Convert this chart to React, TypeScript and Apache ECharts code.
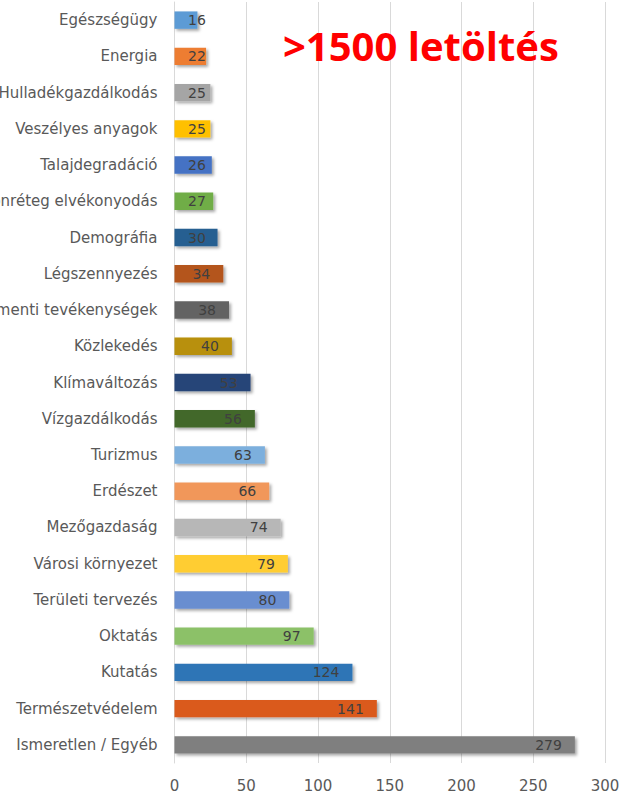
import React, { useEffect, useRef } from "react";
import * as echarts from "echarts";

const categories = [
  "Egészségügy",
  "Energia",
  "Hulladékgazdálkodás",
  "Veszélyes anyagok",
  "Talajdegradáció",
  "Ózonréteg elvékonyodás",
  "Demográfia",
  "Légszennyezés",
  "Part menti tevékenységek",
  "Közlekedés",
  "Klímaváltozás",
  "Vízgazdálkodás",
  "Turizmus",
  "Erdészet",
  "Mezőgazdaság",
  "Városi környezet",
  "Területi tervezés",
  "Oktatás",
  "Kutatás",
  "Természetvédelem",
  "Ismeretlen / Egyéb",
];

const values = [16, 22, 25, 25, 26, 27, 30, 34, 38, 40, 53, 56, 63, 66, 74, 79, 80, 97, 124, 141, 279];

const barColors = [
  "#5B9BD5", "#ED7D31", "#A5A5A5", "#FFC000", "#4472C4", "#70AD47", "#255E91",
  "#B4541B", "#636363", "#B8900A", "#264478", "#43682B", "#7CAFDD", "#F1975A",
  "#B7B7B7", "#FFCD33", "#698ED0", "#8CC168", "#2E75B6", "#DA5A1B", "#7F7F7F",
];

const xTicks = { min: 0, max: 300, interval: 50 };
const title = ">1500 letöltés";

export default function App() {
  const ref = useRef<HTMLDivElement>(null);
  useEffect(() => {
    if (!ref.current) return;
    const chart = echarts.init(ref.current, null, { renderer: "svg" });
    chart.setOption({
      animation: false,
      backgroundColor: "#ffffff",
      title: {
        text: title,
        left: 278,
        top: 20,
        textStyle: {
          color: "#FF0000",
          fontFamily: "Open Sans",
          fontWeight: "bold",
          fontSize: 40,
        },
      },
      grid: {
        left: 174.5,
        right: 14,
        top: 2,
        bottom: 35,
        containLabel: false,
        outerBoundsMode: "none",
      },
      xAxis: {
        type: "value",
        min: xTicks.min,
        max: xTicks.max,
        interval: xTicks.interval,
        axisLine: { show: false },
        axisTick: { show: false },
        splitLine: { lineStyle: { color: "#D9D9D9", width: 1 } },
        axisLabel: {
          color: "#595959",
          fontFamily: "DejaVu Sans",
          fontSize: 15,
          margin: 15,
        },
      },
      yAxis: {
        type: "category",
        inverse: true,
        data: categories,
        axisLine: { show: true, lineStyle: { color: "#D9D9D9", width: 1 } },
        axisTick: { show: false },
        axisLabel: {
          color: "#595959",
          fontFamily: "DejaVu Sans",
          fontSize: 15,
          margin: 17,
        },
      },
      series: [
        {
          type: "bar",
          barWidth: "48%",
          data: values.map((v, i) => ({
            value: v,
            itemStyle: { color: barColors[i] },
            label: v < 31 ? { position: "insideLeft", distance: 13.5 } : undefined,
          })),
          itemStyle: {
            shadowBlur: 3,
            shadowColor: "rgba(0,0,0,0.35)",
            shadowOffsetX: 2,
            shadowOffsetY: 2,
          },
          label: {
            show: true,
            position: "insideRight",
            distance: 13,
            color: "#404040",
            fontFamily: "DejaVu Sans",
            fontSize: 14,
          },
        },
      ],
    });
    return () => chart.dispose();
  }, []);
  return (
    <div
      ref={ref}
      style={{ position: "absolute", left: 0, top: 0, width: 619, height: 798 }}
    />
  );
}
